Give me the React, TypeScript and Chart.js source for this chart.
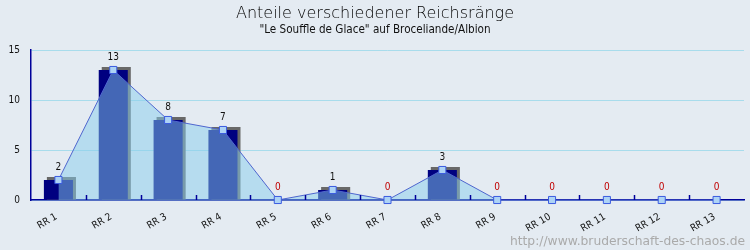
import React, { useEffect, useRef } from 'react';
import { Chart, registerables } from 'chart.js';

Chart.register(...registerables);

const categories = ['RR 1', 'RR 2', 'RR 3', 'RR 4', 'RR 5', 'RR 6', 'RR 7', 'RR 8', 'RR 9', 'RR 10', 'RR 11', 'RR 12', 'RR 13'];
const counts = [2, 13, 8, 7, 0, 1, 0, 3, 0, 0, 0, 0, 0];
const yTicks = [0, 5, 10, 15];
const titleText = 'Anteile verschiedener Reichsränge';
const subtitleText = '"Le Souffle de Glace" auf Broceliande/Albion';
const watermarkText = 'http://www.bruderschaft-des-chaos.de';

const BG = '#e4ebf2';
const NAVY = '#000080';
const AXIS = '#00009a';
const COND = '"DejaVu Sans Condensed", "DejaVu Sans", sans-serif';

const decor = {
  id: 'decor',
  beforeDraw(chart: any) {
    const { ctx, width, height } = chart;
    ctx.save();
    ctx.fillStyle = BG;
    ctx.fillRect(0, 0, width, height);
    ctx.restore();
  },
  beforeDatasetsDraw(chart: any) {
    const { ctx } = chart;
    const meta = chart.getDatasetMeta(0);
    ctx.save();
    ctx.fillStyle = '#686868';
    meta.data.forEach((el: any, i: number) => {
      if (!counts[i]) return;
      const w = el.width;
      ctx.fillRect(el.x - w / 2 + 3, el.y - 3, w, el.base - el.y + 3);
    });
    ctx.restore();
  },
  afterDatasetsDraw(chart: any) {
    const { ctx, chartArea, scales } = chart;
    const x = scales.x;
    ctx.save();
    ctx.strokeStyle = AXIS;
    ctx.lineWidth = 1.5;
    for (let i = 0; i < categories.length - 1; i++) {
      const bx = Math.round((x.getPixelForValue(i) + x.getPixelForValue(i + 1)) / 2) + 0.5;
      ctx.beginPath();
      ctx.moveTo(bx, chartArea.bottom);
      ctx.lineTo(bx, chartArea.bottom - 5);
      ctx.stroke();
    }
    ctx.restore();
    const lineMeta = chart.getDatasetMeta(1);
    ctx.save();
    ctx.font = '10px ' + COND;
    ctx.textAlign = 'center';
    ctx.textBaseline = 'middle';
    lineMeta.data.forEach((el: any, i: number) => {
      ctx.fillStyle = counts[i] === 0 ? '#c00000' : '#111111';
      ctx.fillText(String(counts[i]), el.x, el.y - 13);
    });
    ctx.restore();
  },
  afterDraw(chart: any) {
    const { ctx, width } = chart;
    ctx.save();
    ctx.textAlign = 'center';
    ctx.textBaseline = 'alphabetic';
    ctx.fillStyle = '#000000';
    ctx.font = '200 16px "DejaVu Sans", sans-serif';
    ctx.fillText(titleText, width / 2, 17.5);
    ctx.fillStyle = '#111111';
    ctx.font = '11.6px ' + COND;
    ctx.fillText(subtitleText, width / 2, 33);
    ctx.textAlign = 'right';
    ctx.fillStyle = '#aaaaaa';
    ctx.font = '12.3px "DejaVu Sans", sans-serif';
    ctx.fillText(watermarkText, width - 5, 245);
    ctx.restore();
  },
};

export default function App() {
  const ref = useRef<HTMLCanvasElement | null>(null);
  useEffect(() => {
    if (!ref.current) return;
    const chart = new Chart(ref.current, {
      type: 'bar',
      data: {
        labels: categories,
        datasets: [
          {
            type: 'bar',
            data: counts,
            backgroundColor: NAVY,
            barPercentage: 0.53,
            categoryPercentage: 1,
            order: 2,
          } as any,
          {
            type: 'line',
            data: counts,
            borderColor: '#4f66cf',
            borderWidth: 1,
            backgroundColor: 'rgba(135,206,235,0.5)',
            fill: 'origin',
            tension: 0,
            pointStyle: 'rect',
            pointRadius: 5,
            pointBackgroundColor: '#add3f5',
            pointBorderColor: '#3b5be0',
            pointBorderWidth: 1,
            clip: false,
            order: 1,
          } as any,
        ],
      },
      options: {
        responsive: false,
        animation: false,
        layout: { padding: { top: 50, right: 5, left: 0, bottom: 0 } },
        plugins: {
          legend: { display: false },
          tooltip: { enabled: false },
          title: { display: false },
        },
        scales: {
          x: {
            offset: true,
            grid: { display: false, drawTicks: false },
            border: { display: true, color: AXIS, width: 1.5 },
            ticks: {
              autoSkip: false,
              minRotation: 30,
              maxRotation: 30,
              padding: 11,
              labelOffset: -2,
              color: '#111111',
              font: { family: COND, size: 10 },
            },
            afterFit: (s: any) => {
              s.height = 50;
            },
          },
          y: {
            min: 0,
            max: 15,
            grid: { color: '#a8dcec', drawTicks: false, lineWidth: 1 },
            border: { display: true, color: AXIS, width: 1.5 },
            ticks: {
              padding: 11,
              color: '#111111',
              font: { family: COND, size: 10 },
            },
            afterBuildTicks: (s: any) => {
              s.ticks = yTicks.map((v) => ({ value: v }));
            },
            afterFit: (s: any) => {
              s.width = 31;
            },
          },
        },
      },
      plugins: [decor],
    });
    return () => chart.destroy();
  }, []);
  return (
    <div style={{ position: 'fixed', left: 0, top: 0, width: 750, height: 250 }}>
      <canvas ref={ref} width={750} height={250} style={{ display: 'block', width: 750, height: 250 }} />
    </div>
  );
}
